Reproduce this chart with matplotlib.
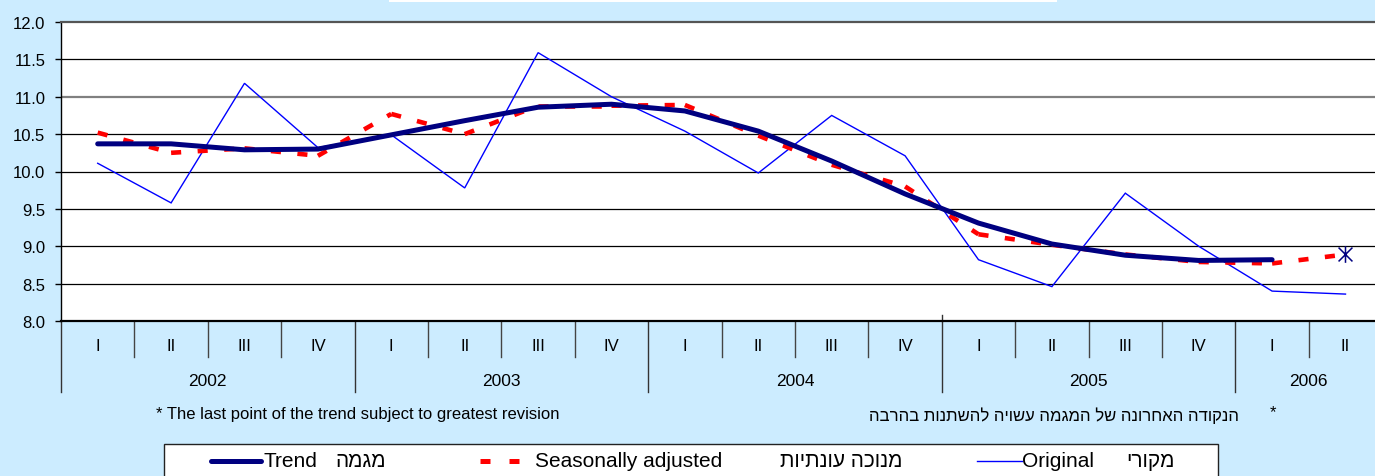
import matplotlib
matplotlib.use("Agg")
import matplotlib.pyplot as plt
from matplotlib.patches import Rectangle
from matplotlib.lines import Line2D
from matplotlib.path import Path

plt.rcParams['font.family'] = ['Liberation Sans', 'DejaVu Sans']

# ---- data ----
quarters = ['I', 'II', 'III', 'IV'] * 4 + ['I', 'II']
years = ['2002', '2003', '2004', '2005', '2006']
year_quarters = [4, 4, 4, 4, 2]
original = [10.11, 9.58, 11.18, 10.32, 10.49, 9.78, 11.59, 11.00, 10.54, 9.98,
            10.75, 10.21, 8.82, 8.46, 9.71, 9.00, 8.40, 8.36]
seasonal = [10.52, 10.25, 10.31, 10.21, 10.77, 10.50, 10.88, 10.88, 10.89, 10.48,
            10.09, 9.80, 9.16, 9.02, 8.89, 8.79, 8.77, 8.89]
trend = [10.37, 10.37, 10.29, 10.30, 10.49, 10.68, 10.86, 10.90, 10.81, 10.54,
         10.14, 9.70, 9.31, 9.03, 8.88, 8.81, 8.82]
yticks = [8.0, 8.5, 9.0, 9.5, 10.0, 10.5, 11.0, 11.5, 12.0]

note_en = "* The last point of the trend subject to greatest revision"
note_he = "הנקודה האחרונה של המגמה עשויה להשתנות בהרבה"
leg_trend_en, leg_trend_he = "Trend", "מגמה"
leg_sa_en, leg_sa_he = "Seasonally adjusted", "מנוכה עונתיות"
leg_orig_en, leg_orig_he = "Original", "מקורי"


def vis(s):
    # matplotlib has no bidi: give Hebrew in visual order
    return s[::-1]


W, H = 1375, 477
BG = '#CCECFF'
fig = plt.figure(figsize=(W / 100, H / 100), dpi=100, facecolor=BG)


def fx(x):
    return x / W


def fy(y):
    return 1 - y / H


ax_l, ax_r, ax_t, ax_b = 61, 1382.2, 23, 322
ax = fig.add_axes([fx(ax_l), fy(ax_b), (ax_r - ax_l) / W, (ax_b - ax_t) / H])
ax.set_facecolor('white')
n = len(quarters)
ax.set_xlim(0, n)
ax.set_ylim(8.0, 12.0)

# grid
for v in yticks[1:-1]:
    if abs(v - 11.0) < 1e-9:
        ax.axhline(v, color='#808080', lw=1.6, zorder=1)
    else:
        ax.axhline(v, color='black', lw=0.9, zorder=1)

ax.spines['right'].set_visible(False)
ax.spines['top'].set_color('#555555')
ax.spines['top'].set_linewidth(1.6)
ax.spines['left'].set_color('black')
ax.spines['left'].set_linewidth(1.0)
ax.spines['bottom'].set_color('black')
ax.spines['bottom'].set_linewidth(1.6)

ax.set_yticks(yticks)
ax.set_yticklabels([f"{v:.1f}" for v in yticks])
ax.tick_params(axis='y', length=4.3, width=1, color='black', pad=7, labelsize=12)
ax.set_xticks([])

xs = [i + 0.5 for i in range(n)]

# original
ax.plot(xs[:len(original)], original, color='#0000FF', lw=1.0, zorder=3,
        solid_joinstyle='miter')
# seasonally adjusted (dash pattern restarts at every point, like the original)
for i in range(len(seasonal) - 1):
    ax.plot(xs[i:i + 2], seasonal[i:i + 2], color='#FF0000', lw=3.3,
            dashes=(2.2, 3.6), dash_capstyle='butt', zorder=4)
# trend
ax.plot(xs[:len(trend)], trend, color='#000080', lw=3.6, zorder=5,
        solid_joinstyle='round', solid_capstyle='round')
# last point marker
star = Path([(-1, -1), (1, 1), (-1, 1), (1, -1), (0, -1.2), (0, 1.2)],
            [Path.MOVETO, Path.LINETO, Path.MOVETO, Path.LINETO, Path.MOVETO, Path.LINETO])
ax.plot([xs[len(seasonal) - 1]], [seasonal[-1]], marker=star, markersize=12,
        markeredgecolor='#000080', markerfacecolor='none', mew=1.1, zorder=6,
        linestyle='none')

# category axis
xt = ax.get_xaxis_transform()
q_sep = -36 / 299
y_sep = -71 / 299
q_lab = -24.7 / 299
y_lab = -59.7 / 299
bounds = [0]
for c in year_quarters:
    bounds.append(bounds[-1] + c)
for b in range(0, n + 1):
    if b in bounds:
        ax.plot([b, b], [0, y_sep], transform=xt, color='#333333', lw=1.0, clip_on=False)
    else:
        ax.plot([b, b], [0, q_sep], transform=xt, color='#444444', lw=1.0, clip_on=False)
# small upward tick at 2005 boundary
ax.plot([bounds[3], bounds[3]], [0, 6 / 299], transform=xt, color='#333333', lw=1.0,
        clip_on=False)
for i, q in enumerate(quarters):
    ax.text(xs[i], q_lab, q, transform=xt, ha='center', va='center', fontsize=12)
for k, yr in enumerate(years):
    ax.text((bounds[k] + bounds[k + 1]) / 2, y_lab, yr, transform=xt, ha='center',
            va='center', fontsize=12.5)

# top (cut) title box
fig.patches.append(Rectangle((fx(389), fy(3)), fx(1057) - fx(389), 3 / H + 0.01,
                             transform=fig.transFigure, facecolor='white',
                             edgecolor='none', zorder=0))

# footnotes
fig.text(fx(357.5), fy(415), note_en, ha='center', va='center', fontsize=12)
fig.text(fx(1239), fy(416), vis(note_he), ha='right', va='center', fontsize=12)
fig.text(fx(1273), fy(413), "*", ha='center', va='center', fontsize=12)

# legend box
fig.patches.append(Rectangle((fx(164), fy(490)), fx(1218) - fx(164), (490 - 445) / H,
                             transform=fig.transFigure, facecolor='white',
                             edgecolor='#222222', lw=1.0, zorder=1))
ly = fy(462)
fig.lines.append(Line2D([fx(211), fx(261)], [ly, ly], transform=fig.transFigure,
                        color='#000080', lw=3.6, solid_capstyle='round', zorder=3))
fig.lines.append(Line2D([fx(480), fx(520)], [ly, ly], transform=fig.transFigure,
                        color='#FF0000', lw=3.6, dashes=(2.0, 3.8), zorder=3))
fig.lines.append(Line2D([fx(977), fx(1022)], [ly, ly], transform=fig.transFigure,
                        color='#0000FF', lw=1.0, zorder=3))
fs_leg = 15
fig.text(fx(264), ly, leg_trend_en, ha='left', va='center', fontsize=fs_leg, zorder=4)
fig.text(fx(386), ly, vis(leg_trend_he), ha='right', va='center', fontsize=fs_leg, zorder=4)
fig.text(fx(535), ly, leg_sa_en, ha='left', va='center', fontsize=fs_leg, zorder=4)
fig.text(fx(902), ly, vis(leg_sa_he), ha='right', va='center', fontsize=fs_leg, zorder=4)
fig.text(fx(1022), ly, leg_orig_en, ha='left', va='center', fontsize=fs_leg, zorder=4)
fig.text(fx(1175), ly, vis(leg_orig_he), ha='right', va='center', fontsize=fs_leg, zorder=4)

fig.savefig("out.png", dpi=100, facecolor=BG)
